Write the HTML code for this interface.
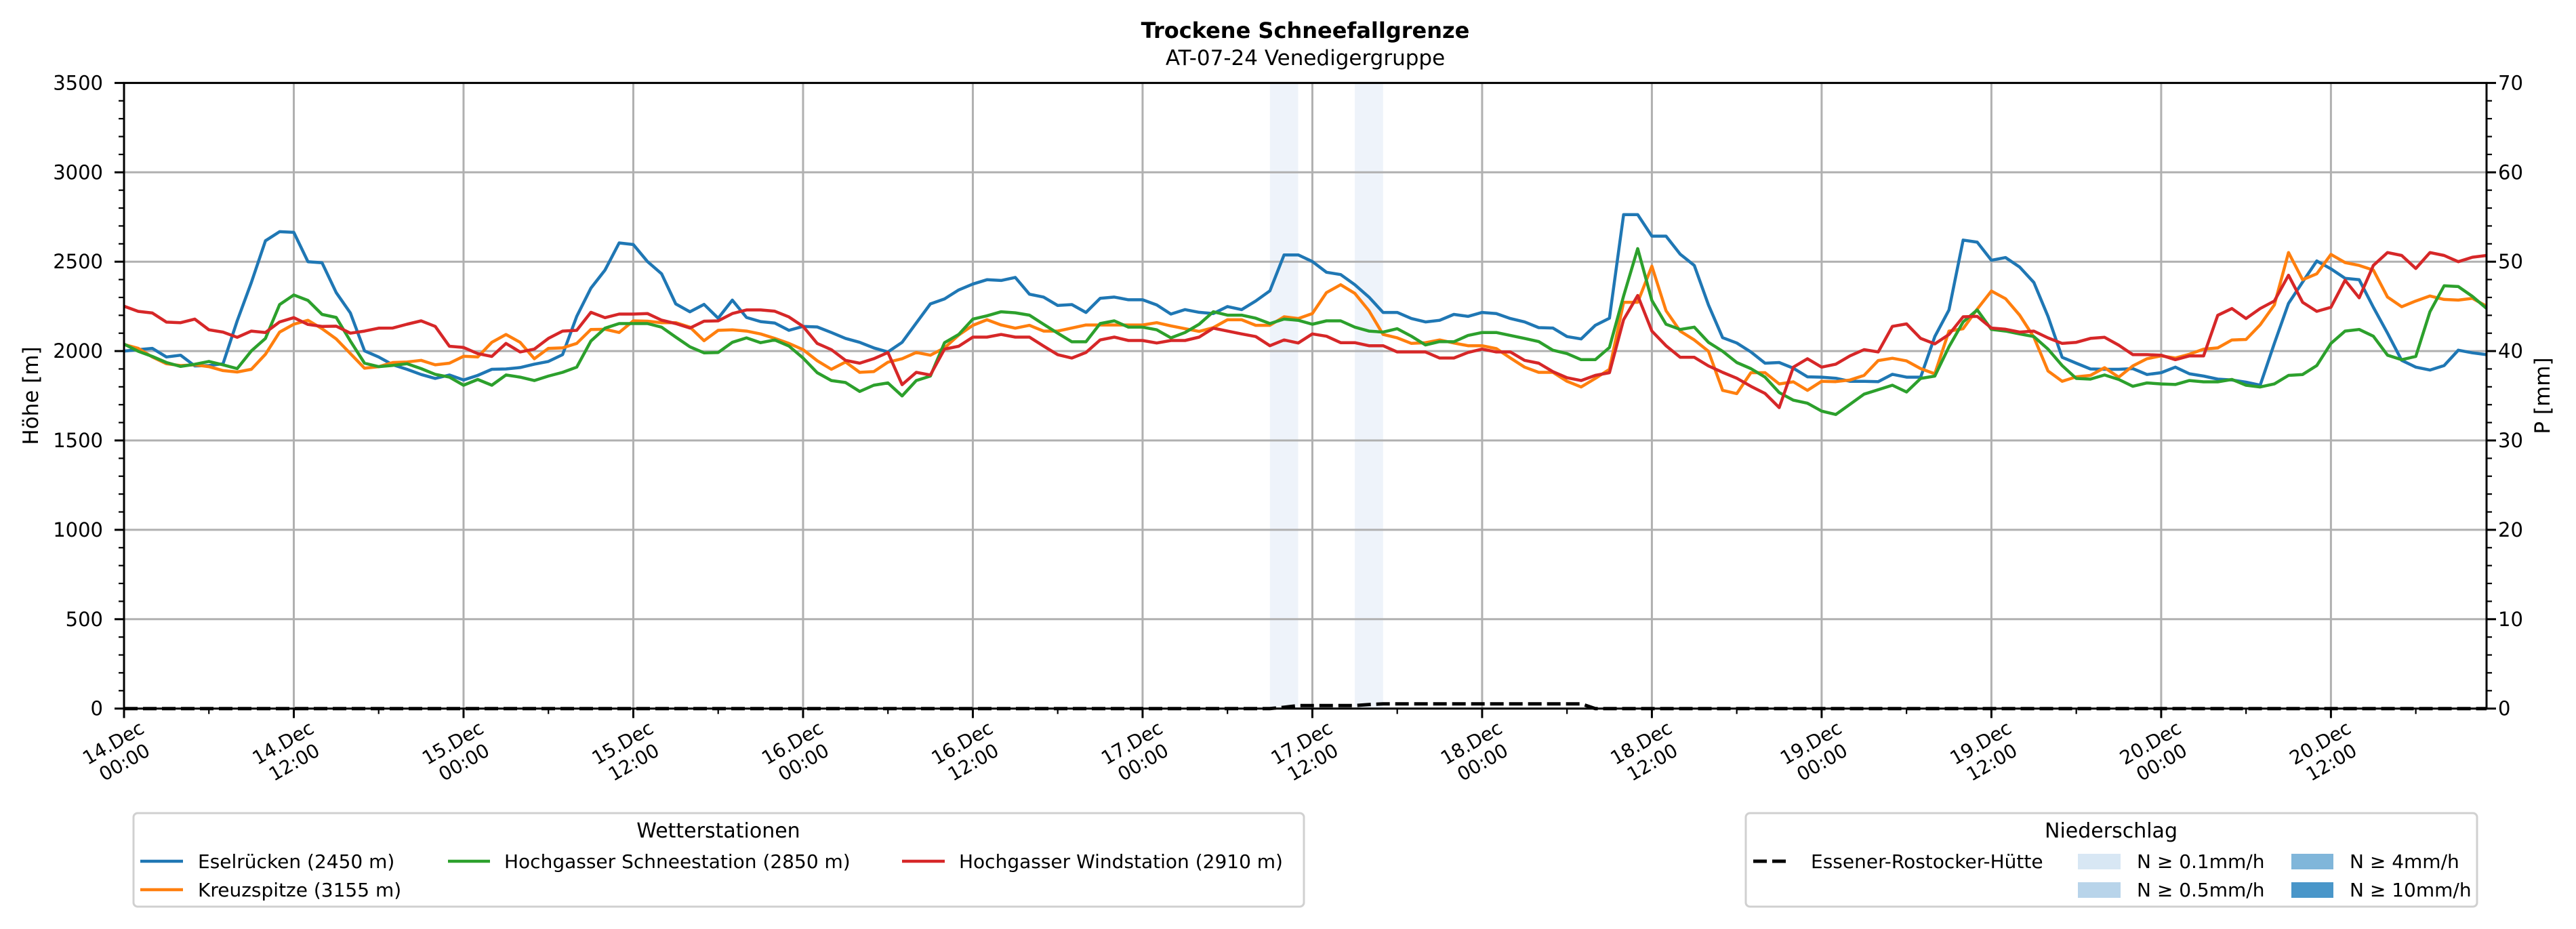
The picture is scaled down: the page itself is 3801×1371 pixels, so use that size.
<!DOCTYPE html>
<html><head><meta charset="utf-8"><style>
html,body{margin:0;padding:0;background:#fff;}
svg{display:block;font-family:"DejaVu Sans","Liberation Sans",sans-serif;}
</style></head><body>
<svg id="chart" width="3801" height="1371" viewBox="0 0 3801 1371" xmlns="http://www.w3.org/2000/svg">
<rect x="0" y="0" width="3801" height="1371" fill="#fff"/>
<g id="bands"></g>
<g id="grid"></g>
<g id="series"></g>
<g id="axes"></g>
<text x="1926" y="56" text-anchor="middle" font-size="32" font-weight="bold">Trockene Schneefallgrenze</text>
<text x="1926" y="96" text-anchor="middle" font-size="31">AT-07-24 Venedigergruppe</text>
<text x="0" y="0" transform="translate(56,584) rotate(-90)" text-anchor="middle" font-size="31">Höhe [m]</text>
<text x="0" y="0" transform="translate(3762,584) rotate(-90)" text-anchor="middle" font-size="31">P [mm]</text>

<g>
<rect x="197" y="1200" width="1727" height="138" rx="6" fill="#fff" stroke="#d0d0d0" stroke-width="3"/>
<text x="1060" y="1236" text-anchor="middle" font-size="30">Wetterstationen</text>
<g><line x1="207" y1="1271" x2="270" y2="1271" stroke="#1f77b4" stroke-width="4.5"/><text x="292" y="1281" font-size="28">Eselrücken (2450 m)</text></g>
<g><line x1="207" y1="1313" x2="270" y2="1313" stroke="#ff7f0e" stroke-width="4.5"/><text x="292" y="1323" font-size="28">Kreuzspitze (3155 m)</text></g>
<g><line x1="661" y1="1271" x2="723" y2="1271" stroke="#2ca02c" stroke-width="4.5"/><text x="744" y="1281" font-size="28">Hochgasser Schneestation (2850 m)</text></g>
<g><line x1="1331" y1="1271" x2="1394" y2="1271" stroke="#d62728" stroke-width="4.5"/><text x="1415" y="1281" font-size="28">Hochgasser Windstation (2910 m)</text></g>
</g>

<g>
<rect x="2576" y="1200" width="1079" height="138" rx="6" fill="#fff" stroke="#d0d0d0" stroke-width="3"/>
<text x="3115" y="1236" text-anchor="middle" font-size="30">Niederschlag</text>
<g><line x1="2587" y1="1271" x2="2643" y2="1271" stroke="#000" stroke-width="5" stroke-dasharray="20,8"/><text x="2672" y="1281" font-size="28">Essener-Rostocker-Hütte</text></g>
<g><rect x="3066" y="1260" width="63" height="23" fill="#d8e7f4"/><text x="3153" y="1281" font-size="28">N ≥ 0.1mm/h</text></g>
<g><rect x="3066" y="1302" width="63" height="23" fill="#b8d4ea"/><text x="3153" y="1323" font-size="28">N ≥ 0.5mm/h</text></g>
<g><rect x="3381" y="1260" width="62" height="23" fill="#80b6da"/><text x="3467" y="1281" font-size="28">N ≥ 4mm/h</text></g>
<g><rect x="3381" y="1302" width="62" height="23" fill="#4996c9"/><text x="3467" y="1323" font-size="28">N ≥ 10mm/h</text></g>
</g>
</svg>
<script>
const eselruecken=[2000,2008,2015,1967,1977,1917,1919,1929,2169,2384,2617,2668,2664,2500,2494,2327,2213,2001,1967,1923,1898,1869,1847,1866,1838,1864,1898,1900,1908,1927,1942,1980,2194,2352,2453,2605,2596,2501,2432,2264,2220,2261,2184,2285,2188,2165,2157,2116,2138,2135,2104,2071,2049,2018,1995,2049,2157,2264,2292,2342,2375,2399,2395,2412,2318,2302,2255,2260,2216,2295,2302,2287,2287,2258,2207,2232,2217,2210,2249,2232,2280,2337,2538,2538,2501,2441,2428,2371,2302,2216,2216,2182,2163,2172,2205,2194,2216,2210,2182,2163,2131,2129,2081,2068,2144,2184,2763,2763,2643,2643,2542,2479,2258,2075,2045,1995,1932,1936,1904,1856,1854,1848,1831,1831,1829,1870,1854,1854,2081,2230,2621,2609,2508,2523,2470,2384,2194,1965,1932,1900,1898,1898,1902,1869,1879,1910,1873,1860,1843,1838,1826,1809,2043,2267,2386,2504,2460,2407,2399,2245,2100,1948,1910,1894,1919,2005,1990,1980];
const kreuzspitze=[2037,2015,1967,1929,1919,1923,1913,1891,1883,1898,1982,2106,2150,2172,2125,2068,1986,1904,1913,1936,1939,1948,1923,1932,1971,1967,2049,2093,2049,1957,2015,2018,2043,2121,2122,2104,2169,2167,2159,2159,2134,2058,2116,2119,2112,2096,2071,2043,2008,1946,1898,1939,1881,1885,1938,1957,1992,1977,2018,2090,2144,2175,2146,2128,2144,2112,2112,2129,2146,2146,2146,2146,2146,2159,2141,2125,2110,2131,2175,2175,2144,2144,2192,2182,2210,2327,2371,2323,2226,2093,2074,2043,2047,2062,2045,2030,2030,2014,1961,1910,1881,1881,1831,1799,1847,1898,2273,2273,2475,2226,2112,2062,1999,1780,1762,1879,1879,1816,1828,1780,1831,1829,1838,1864,1947,1960,1945,1902,1873,2112,2125,2235,2336,2293,2201,2078,1889,1831,1856,1864,1907,1854,1917,1957,1973,1961,1982,2011,2018,2062,2065,2147,2258,2551,2399,2432,2541,2495,2479,2453,2302,2248,2280,2308,2289,2285,2295,2251];
const schneestation=[2039,1999,1970,1936,1914,1926,1942,1923,1902,2001,2071,2260,2314,2283,2205,2188,2056,1932,1913,1920,1929,1902,1870,1854,1809,1841,1809,1866,1854,1835,1860,1881,1910,2056,2128,2154,2154,2154,2134,2078,2024,1990,1992,2049,2074,2047,2062,2028,1961,1879,1835,1824,1774,1809,1822,1749,1835,1860,2047,2093,2179,2197,2220,2214,2201,2150,2100,2052,2052,2154,2169,2134,2134,2119,2074,2104,2150,2220,2201,2201,2184,2154,2179,2172,2150,2169,2169,2134,2112,2106,2125,2083,2034,2053,2052,2087,2104,2104,2087,2071,2053,2005,1986,1952,1952,2020,2308,2573,2283,2150,2121,2134,2049,1999,1936,1902,1854,1768,1725,1708,1664,1645,1702,1759,1784,1809,1771,1847,1860,2024,2163,2230,2121,2112,2096,2081,2011,1919,1847,1843,1866,1841,1803,1822,1816,1813,1835,1828,1828,1841,1809,1799,1816,1864,1869,1919,2043,2112,2121,2083,1977,1952,1970,2220,2365,2361,2306,2239];
const windstation=[2251,2222,2213,2162,2159,2179,2119,2106,2077,2112,2104,2163,2187,2149,2138,2139,2100,2112,2128,2129,2150,2169,2138,2027,2020,1986,1970,2043,1995,2011,2071,2112,2116,2217,2187,2207,2207,2210,2173,2154,2129,2167,2169,2210,2230,2230,2223,2191,2138,2043,2008,1948,1932,1957,1992,1812,1881,1866,2011,2027,2078,2078,2093,2078,2078,2028,1980,1961,1992,2062,2078,2059,2059,2045,2059,2059,2078,2128,2112,2096,2081,2030,2062,2045,2096,2083,2047,2047,2030,2030,1995,1995,1995,1961,1961,1992,2011,1995,1995,1948,1932,1885,1851,1835,1864,1879,2176,2311,2112,2030,1965,1965,1917,1881,1848,1803,1763,1684,1910,1957,1910,1927,1973,2008,1995,2138,2152,2071,2040,2093,2192,2194,2129,2122,2106,2112,2074,2043,2049,2071,2077,2033,1980,1980,1977,1952,1973,1973,2200,2238,2182,2238,2280,2424,2273,2222,2245,2396,2298,2479,2551,2535,2462,2551,2535,2500,2525,2535];
const precipHours=[0,81,82,83,87,88,89,103,104,167];
const precipValues=[0,0,0.15,0.33,0.33,0.45,0.53,0.53,0,0];
const bandStart=[81,87];
const bandEnd=[83,89];
const yTicks=[0,500,1000,1500,2000,2500,3000,3500];
const y2Ticks=[0,10,20,30,40,50,60,70];
const xTickDays=["14.Dec","14.Dec","15.Dec","15.Dec","16.Dec","16.Dec","17.Dec","17.Dec","18.Dec","18.Dec","19.Dec","19.Dec","20.Dec","20.Dec"];
const xTickTimes=["00:00","12:00","00:00","12:00","00:00","12:00","00:00","12:00","00:00","12:00","00:00","12:00","00:00","12:00"];

const NS="http://www.w3.org/2000/svg";
const L=183,R=3669,T=122.4,B=1045.7,NH=167;
const xs=h=>L+(R-L)*h/NH;
const ys=v=>B-(B-T)*v/3500;
const ys2=p=>B-(B-T)*p/70;
function mk(tag,attrs,parent){const e=document.createElementNS(NS,tag);for(const k in attrs)e.setAttribute(k,attrs[k]);parent.appendChild(e);return e;}
const bands=document.getElementById('bands'),grid=document.getElementById('grid'),ser=document.getElementById('series'),axes=document.getElementById('axes');

for(let i=0;i<bandStart.length;i++){
  const r=mk('rect',{x:xs(bandStart[i]),y:T,width:xs(bandEnd[i])-xs(bandStart[i]),height:B-T,fill:'#eef3fa'},bands);
  
  
}
for(const v of yTicks){
  const l=mk('line',{x1:L,x2:R,y1:ys(v),y2:ys(v),stroke:'#b0b0b0','stroke-width':3},grid);
  
  
}
for(let k=0;k<xTickDays.length;k++){
  const l=mk('line',{x1:xs(12*k),x2:xs(12*k),y1:T,y2:B,stroke:'#b0b0b0','stroke-width':3},grid);
  
  
}
function series(data,color,name){
  const pts=data.map((v,i)=>xs(i).toFixed(1)+','+ys(v).toFixed(1)).join(' ');
  const p=mk('polyline',{points:pts,fill:'none',stroke:color,'stroke-width':4.5,'stroke-linejoin':'round'},ser);
  
  
}
series(eselruecken,'#1f77b4','line-eselruecken');
series(kreuzspitze,'#ff7f0e','line-kreuzspitze');
series(schneestation,'#2ca02c','line-schneestation');
series(windstation,'#d62728','line-windstation');
const pp=precipHours.map((h,i)=>xs(h).toFixed(1)+','+ys2(precipValues[i]).toFixed(1)).join(' ');
const pl=mk('polyline',{points:pp,fill:'none',stroke:'#000','stroke-width':5,'stroke-dasharray':'20,8'},ser);



mk('rect',{x:L,y:T,width:R-L,height:B-T,fill:'none',stroke:'#000','stroke-width':3},axes);
for(let v=0;v<=3500;v+=100){
  const major=v%500===0;
  mk('line',{x1:L,x2:L-(major?14:8),y1:ys(v),y2:ys(v),stroke:'#000','stroke-width':major?3:2.2},axes);
}
for(let p=0;p<=70;p+=2){
  const major=p%10===0;
  mk('line',{x1:R,x2:R+(major?14:8),y1:ys2(p),y2:ys2(p),stroke:'#000','stroke-width':major?3:2.2},axes);
}
for(let h=0;h<=NH;h+=6){
  const major=h%12===0;
  mk('line',{x1:xs(h),x2:xs(h),y1:B,y2:B+(major?14:8),stroke:'#000','stroke-width':major?3:2.2},axes);
}
for(const v of yTicks){
  const t=mk('text',{x:152,y:ys(v)+10,'text-anchor':'end','font-size':29},axes);
  t.textContent=v;
  
  
}
for(const p of y2Ticks){
  const t=mk('text',{x:3686,y:ys2(p)+10,'font-size':29},axes);
  t.textContent=p;
  
  
}
for(let k=0;k<xTickDays.length;k++){
  const cx=xs(12*k)-8,cy=1110;
  const t=mk('text',{x:0,y:0,transform:`translate(${cx},${cy}) rotate(-30)`,'text-anchor':'middle','font-size':28},axes);
  
  
  mk('tspan',{x:0,y:-6},t).textContent=xTickDays[k];
  mk('tspan',{x:0,y:27},t).textContent=xTickTimes[k];
}
</script>
</body></html>
